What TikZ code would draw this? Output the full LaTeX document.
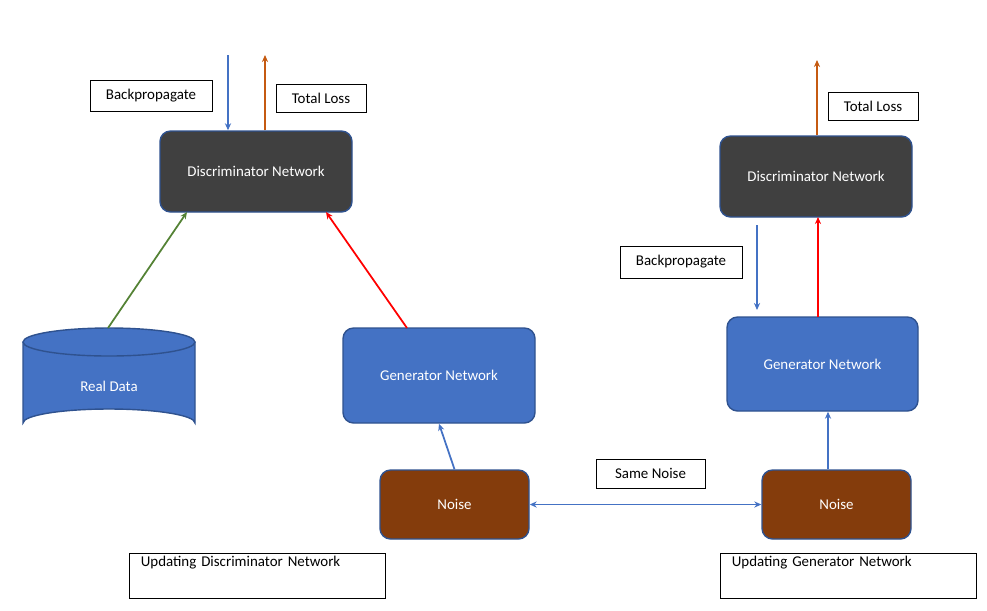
\documentclass[tikz,border=0pt]{standalone}
\usepackage{fontspec}
\setmainfont{Carlito}
\usetikzlibrary{arrows.meta,positioning}
\newlength{\du}
\setlength{\du}{0.02cm}
\definecolor{blk}{HTML}{404040}
\definecolor{blu}{HTML}{4472C4}
\definecolor{bdr}{HTML}{2F528F}
\definecolor{brn}{HTML}{843C0C}
\definecolor{org}{HTML}{C55A11}
\definecolor{grn}{HTML}{548235}
\tikzset{
  net/.style={draw=bdr, line width=0.8pt, rounded corners=6pt, text=white, font=\fontsize{8.5}{10}\selectfont},
  disc/.style={net, fill=blk},
  gen/.style={net, fill=blu},
  noise/.style={net, fill=brn},
  lbl/.style={draw=black, line width=0.4pt, fill=white, inner sep=0pt, font=\fontsize{8.5}{10}\selectfont},
  arr/.style={-{Stealth[length=4pt,width=3.5pt]}, line width=1pt},
}
\begin{document}
\begin{tikzpicture}[x=\du,y=-\du]
\useasboundingbox (0,0) rectangle (987,610);
% left side
\node[disc, minimum width=192\du, minimum height=81\du] (dl) at (256,171.5) {Discriminator Network};
\node[gen, minimum width=192\du, minimum height=95\du] (gl) at (439,375.5) {Generator Network};
\node[noise, minimum width=149\du, minimum height=69\du] (nl) at (454.5,504.5) {Noise};
% real data cylinder
\fill[blu] (23,342) -- (23,423) arc[start angle=180, end angle=360, x radius=86, y radius=14] -- (195,342) -- cycle;
\fill[blu] (109,342) ellipse[x radius=86, y radius=14];
\draw[bdr, line width=0.8pt] (23,342) -- (23,423) arc[start angle=180, end angle=360, x radius=86, y radius=14] -- (195,342);
\draw[bdr, line width=0.8pt] (109,342) ellipse[x radius=86, y radius=14];
\node[text=white, font=\fontsize{8.5}{10}\selectfont] (rd) at (109,386) {Real Data};
\coordinate (rdtop) at (108,328);
% right side
\node[disc, minimum width=192\du, minimum height=81\du] (dr) at (816,176.5) {Discriminator Network};
\node[gen, minimum width=191\du, minimum height=94\du] (gr) at (822.5,364) {Generator Network};
\node[noise, minimum width=149\du, minimum height=69\du] (nr) at (836.5,504.5) {Noise};
% labels
\node[lbl, minimum width=122\du, minimum height=31\du] (bpl) at (151,95.5) {Backpropagate};
\node[lbl, minimum width=90\du, minimum height=28\du] (tll) at (321,98) {Total Loss};
\node[lbl, minimum width=90\du, minimum height=28\du] (tlr) at (873,106) {Total Loss};
\node[lbl, minimum width=122\du, minimum height=32\du] (bpr) at (681,262) {Backpropagate};
\node[lbl, minimum width=109\du, minimum height=29\du] (sn) at (650.5,473.5) {Same Noise};
\node[lbl, minimum width=256\du, minimum height=45\du, align=left, anchor=north west, text depth=30\du, text width=240\du] (udl) at (129,553) {\hspace*{2pt}Updating Discriminator Network};
\node[lbl, minimum width=256\du, minimum height=45\du, align=left, anchor=north west, text depth=30\du, text width=240\du] (udr) at (720,553) {\hspace*{2pt}Updating Generator Network};
% connectors
\coordinate (bpin) at (228,55);
\coordinate (tlout) at (265,55);
\coordinate (tlrout) at (817,60);
\coordinate (bprin) at (757,225);
\coordinate (bprend) at (757,310);
\draw[arr, blu] (bpin) -- (bpin |- dl.north);
\draw[arr, org] (tlout |- dl.north) -- (tlout);
\draw[arr, grn] (rdtop) -- (187,212);
\draw[arr, red] (407,328) -- (326,212);
\draw[arr, blu] (nl.north) -- (gl.south);
\draw[{Stealth[length=4pt,width=3.5pt]}-{Stealth[length=4pt,width=3.5pt]}, blu, line width=0.8pt] (nl.east) -- (nr.west);
\draw[arr, org] (tlrout |- dr.north) -- (tlrout);
\draw[arr, blu] (bprin) -- (bprend);
\draw[arr, red] (818,317) -- (818,217);
\draw[arr, blu] (nr.north -| 828,0) -- (gr.south -| 828,0);
\end{tikzpicture}
\end{document}
